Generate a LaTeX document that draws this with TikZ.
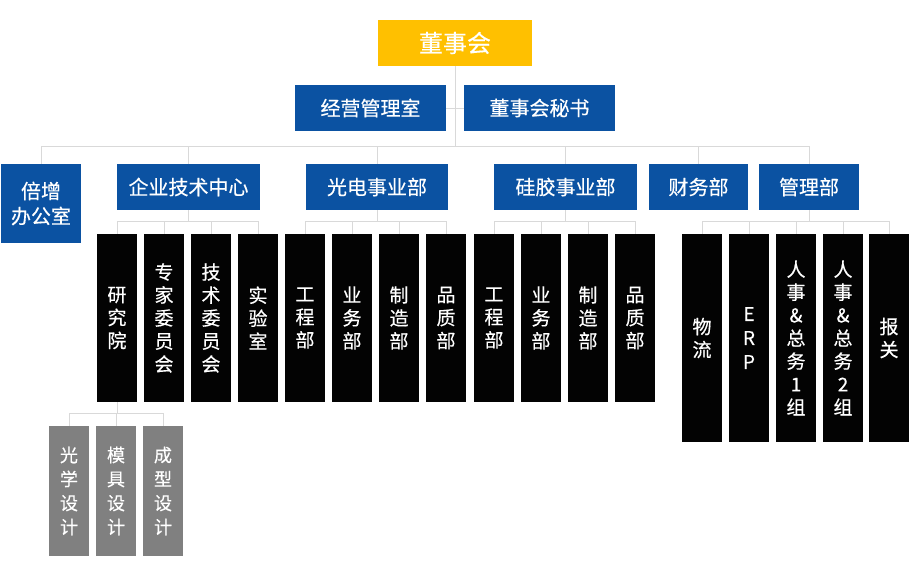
\documentclass[tikz,border=0pt]{standalone}
\usepackage{fontspec}
\setmainfont{Noto Sans CJK SC}[FakeBold=0.4]
\definecolor{boardyellow}{HTML}{FFC000}
\definecolor{deptblue}{HTML}{0B52A2}
\definecolor{unitblack}{HTML}{030303}
\definecolor{subgrey}{HTML}{808080}
\definecolor{linkgrey}{HTML}{D9D9D9}
\tikzset{board/.style = {fill=boardyellow, text=white, inner sep=0pt, minimum width=154pt, minimum height=46pt, font=\fontsize{24}{28}\selectfont},
         dept/.style = {fill=deptblue, text=white, inner sep=0pt, minimum height=46pt, align=center, font=\fontsize{20}{25}\selectfont},
         unit/.style = {fill=unitblack, text=white, inner sep=0pt, minimum width=40pt, minimum height=168pt, align=center, font=\fontsize{19}{23}\selectfont},
         subunit/.style = {fill=subgrey, text=white, inner sep=0pt, minimum width=40pt, minimum height=130pt, align=center, font=\fontsize{18}{24}\selectfont},
         link/.style = {draw=linkgrey, line width=1pt}}

\begin{document}
\begin{tikzpicture}[x=1pt,y=-1pt]
        \useasboundingbox (0,0) rectangle (910,576);
        % top
        \node[board](board)at(455,43){董事会};
        \node[dept, minimum width=151pt](mgmtoffice)at(370.5,108){经营管理室};
        \node[dept, minimum width=151pt](secretary)at(539.5,108){董事会秘书};
        % departments
        \node[dept, minimum width=80pt, minimum height=79pt](office)at(41,203.5){倍增\\办公室};
        \node[dept, minimum width=143pt](tech)at(188.5,187){企业技术中心};
        \node[dept, minimum width=142pt](opto)at(377,187){光电事业部};
        \node[dept, minimum width=143pt](silica)at(565.5,187){硅胶事业部};
        \node[dept, minimum width=99pt](finance)at(698.5,187){财务部};
        \node[dept, minimum width=100pt](admin)at(809,187){管理部};
        % units
        \node[unit](t1)at(117,318){研\\究\\院};
        \node[unit](t2)at(164,318){专\\家\\委\\员\\会};
        \node[unit](t3)at(211,318){技\\术\\委\\员\\会};
        \node[unit](t4)at(258,318){实\\验\\室};
        \node[unit](o1)at(305,318){工\\程\\部};
        \node[unit](o2)at(352,318){业\\务\\部};
        \node[unit](o3)at(399,318){制\\造\\部};
        \node[unit](o4)at(446,318){品\\质\\部};
        \node[unit](s1)at(494,318){工\\程\\部};
        \node[unit](s2)at(541,318){业\\务\\部};
        \node[unit](s3)at(588,318){制\\造\\部};
        \node[unit](s4)at(635,318){品\\质\\部};
        \node[unit, minimum height=208pt](a1)at(702,338){物\\流};
        \node[unit, minimum height=208pt, font=\fontsize{19}{24}\selectfont](a2)at(749,338){E\\R\\P};
        \node[unit, minimum height=208pt](a3)at(796,338){人\\事\\\&\\总\\务\\1\\组};
        \node[unit, minimum height=208pt](a4)at(843,338){人\\事\\\&\\总\\务\\2\\组};
        \node[unit, minimum height=208pt](a5)at(889,338){报\\关};
        % research groups
        \node[subunit](g1)at(69,491){光\\学\\设\\计};
        \node[subunit](g2)at(116,491){模\\具\\设\\计};
        \node[subunit](g3)at(163,491){成\\型\\设\\计};

        % connectors
        \coordinate(topbus)at(0,146);
        \coordinate(unitbus)at(0,221);
        \coordinate(subbus)at(0,413);
        \draw[link](board.south)--(board.south |- topbus);
        \draw[link](mgmtoffice.east)--(secretary.west);
        \draw[link](office.north |- topbus)--(admin.north |- topbus);
        \foreach \d in {office,tech,opto,silica,finance,admin}
            \draw[link](\d.north)--(\d.north |- topbus);
        \foreach \d/\first/\last in {tech/t1/t4,opto/o1/o4,silica/s1/s4,admin/a1/a5}{
            \draw[link](\d.south)--(\d.south |- unitbus);
            \draw[link](\first.north |- unitbus)--(\last.north |- unitbus);
        }
        \foreach \u in {t1,t2,t3,t4,o1,o2,o3,o4,s1,s2,s3,s4,a1,a2,a3,a4,a5}
            \draw[link](\u.north)--(\u.north |- unitbus);
        \draw[link](t1.south)--(t1.south |- subbus);
        \draw[link](g1.north |- subbus)--(g3.north |- subbus);
        \foreach \g in {g1,g2,g3}
            \draw[link](\g.north)--(\g.north |- subbus);
\end{tikzpicture}
\end{document}
